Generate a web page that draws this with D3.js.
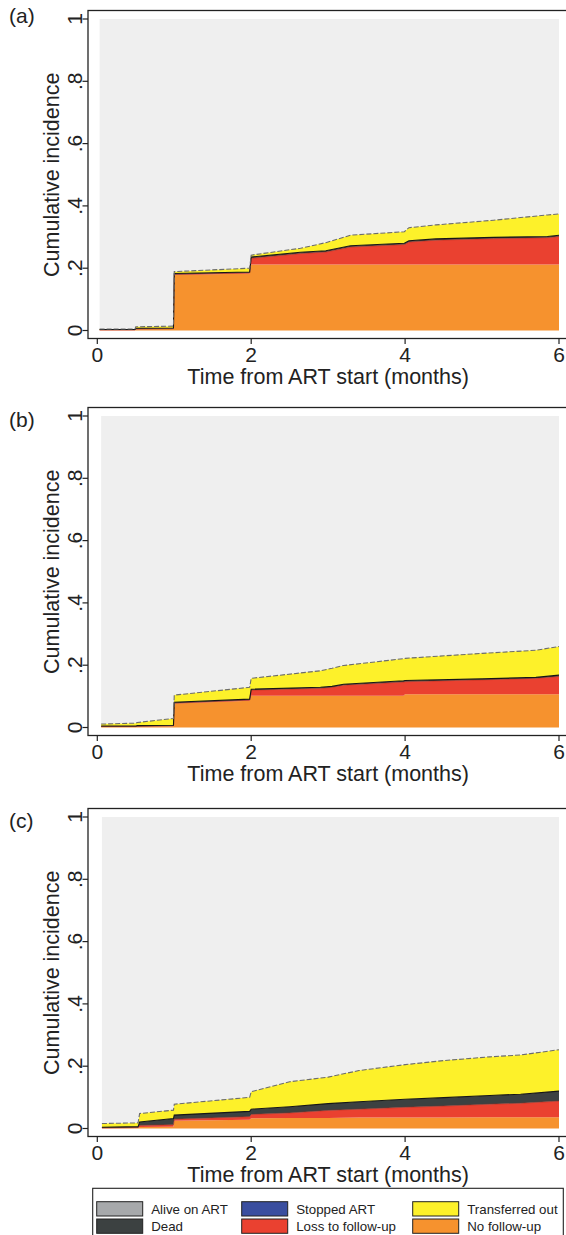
<!DOCTYPE html>
<html>
<head>
<meta charset="utf-8">
<script src="https://cdn.jsdelivr.net/npm/d3@7"></script>
<style>
  body { margin: 0; background: #fff; }
  svg text { font-family: "Liberation Sans", Arial, sans-serif; fill: #222; }
</style>
</head>
<body>
<script>
// Cumulative incidence by state (per panel)
const keys = ['noFollow', 'loss', 'stopped', 'dead', 'transfer'];

const timesA    = [0.03, 0.49, 0.5, 0.99, 1.0, 1.98, 2.0, 2.64, 2.97, 3.29, 3.99, 4.05, 4.4, 5.15, 5.85, 6.0];
const noFollowA = [0.001, 0.001, 0.004, 0.005, 0.178, 0.183, 0.212, 0.212, 0.212, 0.212, 0.212, 0.212, 0.212, 0.212, 0.212, 0.212];
const lossA     = [0.001, 0.001, 0.001, 0.001, 0.002, 0.002, 0.020, 0.035, 0.040, 0.056, 0.064, 0.072, 0.078, 0.083, 0.086, 0.090];
const stoppedA  = [0, 0, 0, 0, 0, 0, 0, 0, 0, 0, 0, 0, 0, 0, 0, 0];
const deadA     = [0.001, 0.001, 0.002, 0.002, 0.003, 0.003, 0.004, 0.004, 0.004, 0.004, 0.004, 0.004, 0.004, 0.004, 0.004, 0.004];
const transferA = [0.002, 0.002, 0.005, 0.006, 0.006, 0.012, 0.006, 0.013, 0.026, 0.034, 0.037, 0.042, 0.045, 0.055, 0.069, 0.068];

const timesB    = [0.05, 0.5, 0.52, 0.99, 1.0, 1.98, 2.0, 2.9, 3.05, 3.2, 3.98, 4.0, 5.0, 5.7, 6.0];
const noFollowB = [0.002, 0.002, 0.003, 0.004, 0.077, 0.086, 0.102, 0.102, 0.102, 0.102, 0.102, 0.107, 0.107, 0.107, 0.107];
const lossB     = [0.001, 0.001, 0.001, 0.001, 0.001, 0.002, 0.018, 0.024, 0.027, 0.034, 0.044, 0.040, 0.046, 0.051, 0.057];
const stoppedB  = [0, 0, 0, 0, 0, 0, 0, 0, 0, 0, 0, 0, 0, 0, 0];
const deadB     = [0.002, 0.002, 0.002, 0.002, 0.003, 0.003, 0.003, 0.003, 0.003, 0.003, 0.004, 0.004, 0.003, 0.003, 0.004];
const transferB = [0.006, 0.009, 0.010, 0.022, 0.023, 0.038, 0.035, 0.053, 0.058, 0.060, 0.071, 0.071, 0.082, 0.087, 0.092];

const timesC    = [0.06, 0.53, 0.55, 0.99, 1.0, 1.98, 2.0, 2.5, 3.0, 3.4, 4.0, 4.5, 5.1, 5.5, 6.0];
const noFollowC = [0.001, 0.002, 0.005, 0.006, 0.025, 0.028, 0.033, 0.034, 0.034, 0.035, 0.035, 0.035, 0.036, 0.036, 0.036];
const lossC     = [0.001, 0.001, 0.005, 0.006, 0.005, 0.010, 0.012, 0.016, 0.024, 0.027, 0.033, 0.037, 0.042, 0.045, 0.052];
const stoppedC  = [0, 0, 0, 0, 0, 0, 0, 0, 0, 0, 0, 0, 0, 0, 0];
const deadC     = [0.002, 0.003, 0.011, 0.020, 0.013, 0.017, 0.017, 0.020, 0.022, 0.024, 0.026, 0.027, 0.028, 0.029, 0.032];
const transferC = [0.012, 0.012, 0.027, 0.027, 0.035, 0.045, 0.056, 0.080, 0.085, 0.100, 0.111, 0.119, 0.124, 0.126, 0.133];

const xTicks = [0, 2, 4, 6];
const yTicks = [0, 0.2, 0.4, 0.6, 0.8, 1];
const yTickLabels = ['0', '.2', '.4', '.6', '.8', '1'];

const legendItems = [
  { label: 'Alive on ART', color: '#a7a9ab' },
  { label: 'Dead', color: '#3c4141' },
  { label: 'Stopped ART', color: '#3a4e9f' },
  { label: 'Loss to follow-up', color: '#ea4130' },
  { label: 'Transferred out', color: '#fdf12a' },
  { label: 'No follow-up', color: '#f6922e' }
];

const fills = {
  noFollow: '#f6922e',
  loss: '#ea4130',
  stopped: '#3a4e9f',
  dead: '#3c4141',
  transfer: '#fdf12a'
};

const panels = [
  { tag: '(a)', top: 19, tagY: 23, times: timesA, cols: [noFollowA, lossA, stoppedA, deadA, transferA] },
  { tag: '(b)', top: 416, tagY: 427, times: timesB, cols: [noFollowB, lossB, stoppedB, deadB, transferB] },
  { tag: '(c)', top: 817, tagY: 828, times: timesC, cols: [noFollowC, lossC, stoppedC, deadC, transferC] }
];

const width = 566;
const height = 1235;
const plotH = 311.5;
const axisLeft = 88;

const svg = d3.select('body')
  .append('svg')
  .attr('width', width)
  .attr('height', height);

const x = d3.scaleLinear().domain([0, 6]).range([97.3, 559]);

panels.forEach(p => {
  const y = d3.scaleLinear().domain([0, 1]).range([p.top + plotH, p.top]);
  const g = svg.append('g');

  const rows = p.times.map((t, i) => {
    const r = { t };
    keys.forEach((k, j) => { r[k] = p.cols[j][i]; });
    return r;
  });

  const stacked = d3.stack().keys(keys)(rows);
  const topSeries = stacked[stacked.length - 1];

  // alive on ART: everything above the stacked states up to 1
  const alive = d3.area()
    .x((d, i) => x(rows[i].t))
    .y0(d => y(d[1]))
    .y1(y(1));
  g.append('path')
    .datum(topSeries)
    .attr('d', alive)
    .attr('fill', '#efefef');

  const area = d3.area()
    .x(d => x(d.data.t))
    .y0(d => y(d[0]))
    .y1(d => y(d[1]));

  g.selectAll('.band')
    .data(stacked)
    .enter()
    .append('path')
    .attr('class', 'band')
    .attr('d', area)
    .attr('fill', d => fills[d.key]);

  const edge = d3.line()
    .x(d => x(d.data.t))
    .y(d => y(d[1]));

  // thin outline on the loss band and on the dead band
  g.append('path')
    .datum(stacked[1])
    .attr('d', edge)
    .attr('fill', 'none')
    .attr('stroke', '#a52a1c')
    .attr('stroke-width', 0.6);

  g.append('path')
    .datum(stacked[3])
    .attr('d', edge)
    .attr('fill', 'none')
    .attr('stroke', '#161616')
    .attr('stroke-width', 1.1);

  g.append('path')
    .datum(topSeries)
    .attr('d', edge)
    .attr('fill', 'none')
    .attr('stroke', '#6c6c6c')
    .attr('stroke-width', 1.1)
    .attr('stroke-dasharray', '5,2');

  // frame (right edge lies outside the picture)
  const frameTop = p.top - 8.5;
  const frameBottom = p.top + plotH + 8;
  g.append('rect')
    .attr('x', axisLeft)
    .attr('y', frameTop)
    .attr('width', width + 10 - axisLeft)
    .attr('height', frameBottom - frameTop)
    .attr('fill', 'none')
    .attr('stroke', '#222')
    .attr('stroke-width', 1.3);

  // y axis
  const yAxisG = g.append('g').attr('transform', `translate(${axisLeft},0)`);
  yAxisG.selectAll('line')
    .data(yTicks)
    .enter()
    .append('line')
    .attr('x1', -5.5)
    .attr('x2', 0)
    .attr('y1', d => y(d))
    .attr('y2', d => y(d))
    .attr('stroke', '#222')
    .attr('stroke-width', 1.2);
  yAxisG.selectAll('text')
    .data(yTicks)
    .enter()
    .append('text')
    .attr('transform', d => `translate(-6,${y(d)}) rotate(-90)`)
    .attr('text-anchor', 'middle')
    .style('font-size', '21px')
    .text((d, i) => yTickLabels[i]);

  // x axis
  const xAxisG = g.append('g').attr('transform', `translate(0,${frameBottom})`);
  xAxisG.selectAll('line')
    .data(xTicks)
    .enter()
    .append('line')
    .attr('x1', d => x(d))
    .attr('x2', d => x(d))
    .attr('y1', 0)
    .attr('y2', 5.5)
    .attr('stroke', '#222')
    .attr('stroke-width', 1.2);
  xAxisG.selectAll('text')
    .data(xTicks)
    .enter()
    .append('text')
    .attr('x', d => x(d))
    .attr('y', 23)
    .attr('text-anchor', 'middle')
    .style('font-size', '21px')
    .text(d => d);

  g.append('text')
    .attr('x', (x(0) + x(6)) / 2)
    .attr('y', frameBottom + 45)
    .attr('text-anchor', 'middle')
    .style('font-size', '21.5px')
    .text('Time from ART start (months)');

  g.append('text')
    .attr('transform', `translate(59,${p.top + plotH / 2}) rotate(-90)`)
    .attr('text-anchor', 'middle')
    .style('font-size', '21.5px')
    .text('Cumulative incidence');

  g.append('text')
    .attr('x', 9)
    .attr('y', p.tagY)
    .style('font-size', '21px')
    .text(p.tag);
});

// legend (bottom edge cut by the picture)
const legend = svg.append('g');
legend.append('rect')
  .attr('x', 92.7)
  .attr('y', 1188.3)
  .attr('width', 470.6)
  .attr('height', 60)
  .attr('fill', '#fff')
  .attr('stroke', '#222')
  .attr('stroke-width', 1.1);

const colX = [96.7, 241.7, 412.7];
const rowY = [1201.7, 1219];
legendItems.forEach((item, i) => {
  const col = Math.floor(i / 2);
  const row = i % 2;
  legend.append('rect')
    .attr('x', colX[col])
    .attr('y', rowY[row])
    .attr('width', 46)
    .attr('height', 14.3)
    .attr('fill', item.color)
    .attr('stroke', '#222')
    .attr('stroke-width', 1);
  legend.append('text')
    .attr('x', colX[col] + 54.5)
    .attr('y', rowY[row] + 11.8)
    .style('font-size', '13.3px')
    .text(item.label);
});
</script>
</body>
</html>
